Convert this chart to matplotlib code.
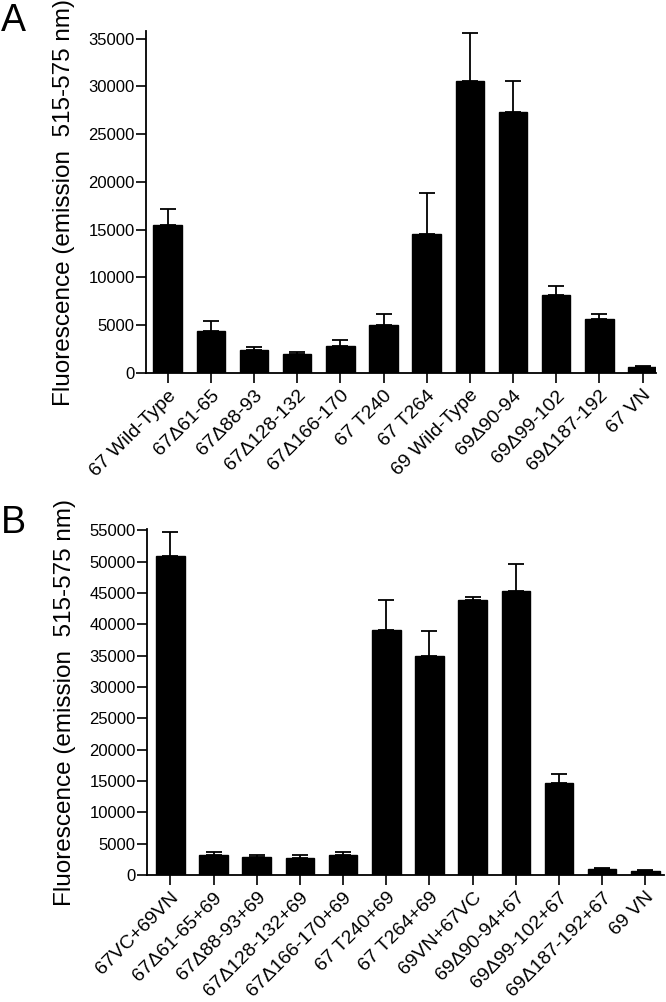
import numpy as np
import matplotlib
matplotlib.use("Agg")
import matplotlib.pyplot as plt

plt.rcParams['font.family'] = ['Liberation Sans', 'DejaVu Sans']

# panel A
labels_a = ['67 Wild-Type', '67\u039461-65', '67\u039488-93', '67\u0394128-132',
            '67\u0394166-170', '67 T240', '67 T264', '69 Wild-Type',
            '69\u039490-94', '69\u039499-102', '69\u0394187-192', '67 VN']
mean_a = [15500, 4400, 2400, 1950, 2850, 5000, 14600, 30550, 27350, 8150, 5650, 650]
err_a = [1700, 1080, 350, 250, 560, 1180, 4250, 5050, 3250, 950, 550, 110]

# panel B
labels_b = ['67VC+69VN', '67\u039461-65+69', '67\u039488-93+69', '67\u0394128-132+69',
            '67\u0394166-170+69', '67 T240+69', '67 T264+69', '69VN+67VC',
            '69\u039490-94+67', '69\u039499-102+67', '69\u0394187-192+67', '69 VN']
mean_b = [50950, 3250, 2830, 2720, 3200, 39100, 35000, 43950, 45300, 14650, 900, 690]
err_b = [3750, 420, 430, 430, 430, 4850, 3900, 480, 4350, 1450, 220, 110]

ylabel = 'Fluorescence (emission  515-575 nm)'

fig = plt.figure(figsize=(6.66, 10.02), dpi=100)
W, H = 666.0, 1002.0


def panel(rect, labels, mean, err, ylim, yticks, xlim, letter, letter_y):
    l, t, r, b = rect
    ax = fig.add_axes([l / W, 1 - b / H, (r - l) / W, (b - t) / H])
    x = np.arange(len(labels))
    ax.bar(x, mean, width=0.66, color='black', edgecolor='black', zorder=2)
    ax.errorbar(x, mean, yerr=[np.zeros(len(err)), err], fmt='none',
                ecolor='black', elinewidth=1.3, capsize=5.8, capthick=1.3, zorder=1)
    ax.set_xlim(*xlim)
    ax.set_ylim(*ylim)
    ax.set_yticks(yticks)
    ax.set_xticks(x)
    ax.set_xticklabels(labels, rotation=45, ha='right', rotation_mode='anchor', fontsize=14)
    ax.tick_params(axis='y', labelsize=12, length=7, width=1.2, pad=1)
    ax.tick_params(axis='x', length=7, width=1.2, pad=3)
    for s in ['top', 'right']:
        ax.spines[s].set_visible(False)
    for s in ['left', 'bottom']:
        ax.spines[s].set_linewidth(1.3)
    ax.set_ylabel(ylabel, fontsize=17.5, labelpad=10)
    fig.text(1 / W, 1 - letter_y / H, letter, fontsize=27, va='top', ha='left')
    return ax


panel((146, 31, 656, 373), labels_a, mean_a, err_a, (0, 35800),
      np.arange(0, 35001, 5000), (-0.5, 11.31), 'A', 3)
panel((147, 529, 664, 875), labels_b, mean_b, err_b, (0, 55200),
      np.arange(0, 55001, 5000), (-0.54, 11.43), 'B', 505)

fig.savefig('out.png', dpi=100)
